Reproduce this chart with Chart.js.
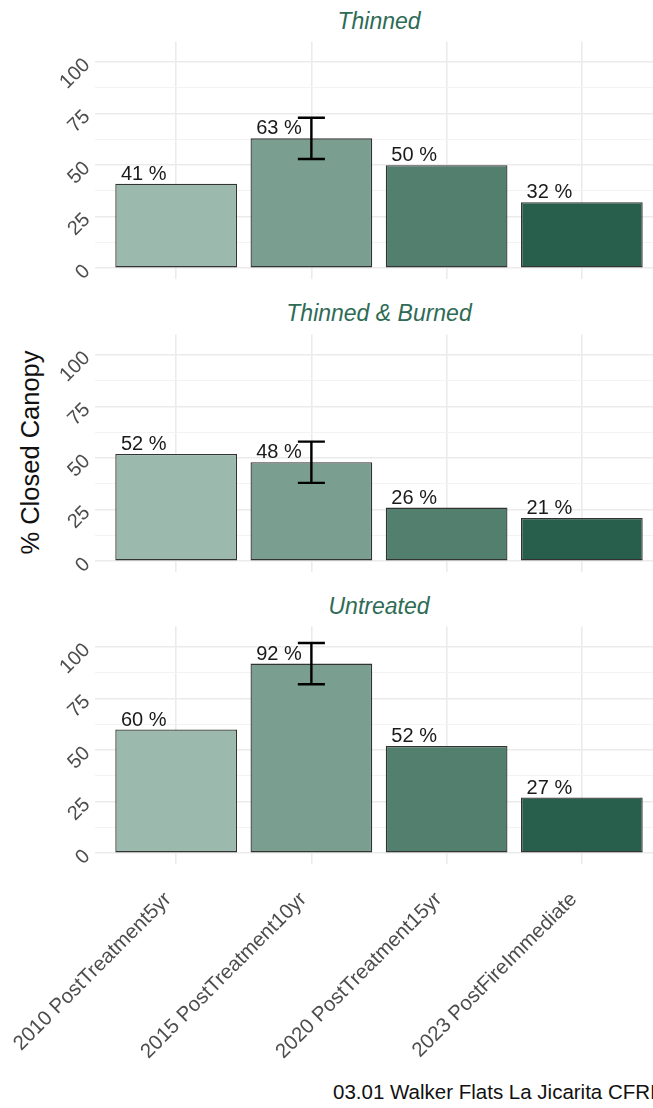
<!DOCTYPE html>
<html>
<head>
<meta charset="utf-8">
<script src="https://cdn.jsdelivr.net/npm/chart.js@4.4.1/dist/chart.umd.min.js"></script>
<style>
  html, body { margin: 0; padding: 0; background: #fff; }
  body { width: 653px; height: 1108px; overflow: hidden; position: relative; font-family: "Liberation Sans", Arial, sans-serif; }
  canvas { position: absolute; left: 0; }
  .strip { position: absolute; left: 95px; width: 568px; text-align: center; font-style: italic; font-size: 23px; line-height: 23px; color: #2e6b55; }
  #ylab { position: absolute; left: -120px; top: 440px; width: 300px; text-align: center; font-size: 25.5px; line-height: 25px; color: #111; transform: rotate(-90deg); }
  #caption { position: absolute; left: 333px; top: 1082px; font-size: 20.5px; line-height: 20px; color: #111; white-space: nowrap; }
</style>
</head>
<body>
<div class="strip" style="top:9.5px">Thinned</div>
<div class="strip" style="top:302px">Thinned &amp; Burned</div>
<div class="strip" style="top:594.5px">Untreated</div>
<div id="ylab">% Closed Canopy</div>
<canvas id="c1" width="668" height="305" style="top:0px"></canvas>
<canvas id="c2" width="668" height="305" style="top:293px"></canvas>
<canvas id="c3" width="668" height="480" style="top:585px"></canvas>
<div id="caption">03.01 Walker Flats La Jicarita CFRI</div>
<script>
// === Data ===
const categories = ['2010 PostTreatment5yr', '2015 PostTreatment10yr', '2020 PostTreatment15yr', '2023 PostFireImmediate'];
const barColors = ['#9bbaad', '#7a9e8f', '#527f6e', '#275e4c'];

const thinned = [41, 63, 50, 32];
const thinnedErr = [null, 10, null, null];
const thinnedBurned = [52, 48, 26, 21];
const thinnedBurnedErr = [null, 10, null, null];
const untreated = [60, 92, 52, 27];
const untreatedErr = [null, 10, null, null];

const yTicks = [0, 25, 50, 75, 100];
const yMinor = [12.5, 37.5, 62.5, 87.5];

const FONT = '"Liberation Sans", Arial, sans-serif';

// labels above bars + error bars
const barExtras = {
    id: 'barExtras',
    afterDatasetsDraw(chart, args, opts) {
        const { ctx, scales: { x, y } } = chart;
        const pts = chart.data.datasets[0].data;
        ctx.save();
        ctx.strokeStyle = '#000';
        ctx.lineWidth = 2.4;
        opts.err.forEach((e, i) => {
            if (e == null) return;
            const p = pts[i];
            const cx = x.getPixelForValue(p.x);
            const hw = x.getPixelForValue(p.x + 0.1) - cx;
            const top = y.getPixelForValue(p.y + e);
            const bot = y.getPixelForValue(p.y - e);
            ctx.beginPath();
            ctx.moveTo(cx, top); ctx.lineTo(cx, bot);
            ctx.moveTo(cx - hw, top); ctx.lineTo(cx + hw, top);
            ctx.moveTo(cx - hw, bot); ctx.lineTo(cx + hw, bot);
            ctx.stroke();
        });
        ctx.fillStyle = '#1a1a1a';
        ctx.font = '20px ' + FONT;
        ctx.textAlign = 'center';
        ctx.textBaseline = 'alphabetic';
        pts.forEach(p => {
            ctx.fillText(p.y + ' %', x.getPixelForValue(p.x - 0.24), y.getPixelForValue(p.y) - 4);
        });
        ctx.restore();
    }
};

function makePanel(id, values, errs, showX) {
    const pts = values.map((v, i) => ({ x: i + 1, y: v }));
    return new Chart(document.getElementById(id), {
        type: 'bar',
        data: {
            datasets: [{
                data: pts,
                backgroundColor: barColors,
                borderColor: '#333333',
                borderWidth: 1.3,
                borderSkipped: false,
                categoryPercentage: 0.9,
                barPercentage: 1,
            }]
        },
        options: {
            responsive: false,
            animation: false,
            layout: { padding: { top: 41.5, right: 5, left: 0, bottom: showX ? 0 : 26.5 } },
            plugins: {
                legend: { display: false },
                tooltip: { enabled: false },
                barExtras: { err: errs },
            },
            scales: {
                x: {
                    type: 'linear', min: 0.4, max: 4.6, bounds: 'data', offset: false,
                    afterBuildTicks: s => { s.ticks = categories.map((c, i) => ({ value: i + 1 })); },
                    grid: { color: '#ebebeb', lineWidth: 1.6, drawTicks: false, offset: false },
                    border: { display: false },
                    ticks: {
                        display: showX, autoSkip: false, minRotation: 45, maxRotation: 45, padding: 24, labelOffset: -8,
                        color: '#4d4d4d', font: { family: FONT, size: 20.5 },
                        callback: v => categories[v - 1]
                    },
                    afterFit: s => {
                        s.height = showX ? 201.5 : 0;
                        // keep the plot area fixed, rotated labels may spill left
                        s.paddingLeft = 0; s.paddingRight = 0;
                    }
                },
                y: {
                    min: -5, max: 110, bounds: 'data',
                    afterBuildTicks: s => { s.ticks = [...yTicks, ...yMinor].sort((a, b) => a - b).map(v => ({ value: v })); },
                    grid: {
                        drawTicks: false,
                        color: c => (c.tick && yTicks.includes(c.tick.value)) ? '#ebebeb' : '#f3f3f3',
                        lineWidth: c => (c.tick && yTicks.includes(c.tick.value)) ? 1.6 : 1
                    },
                    border: { display: false },
                    ticks: {
                        autoSkip: false, minRotation: 45, maxRotation: 45, padding: 8,
                        color: '#4d4d4d', font: { family: FONT, size: 20 },
                        callback: v => yTicks.includes(v) ? String(v) : ''
                    },
                    afterFit: s => { s.width = 95; s.paddingTop = 0; s.paddingBottom = 0; }
                }
            }
        },
        plugins: [barExtras]
    });
}

makePanel('c1', thinned, thinnedErr, false);
makePanel('c2', thinnedBurned, thinnedBurnedErr, false);
makePanel('c3', untreated, untreatedErr, true);
</script>
</body>
</html>
